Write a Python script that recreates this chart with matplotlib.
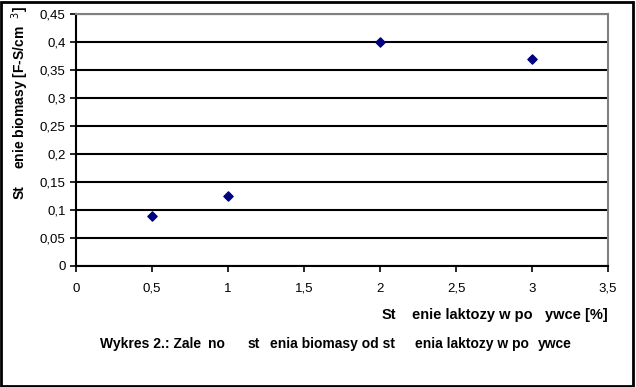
import matplotlib
matplotlib.use("Agg")
import matplotlib.pyplot as plt
from matplotlib.patches import Rectangle
from matplotlib.ticker import FuncFormatter

plt.rcParams["font.family"] = ["Liberation Sans", "DejaVu Sans"]

# dane
laktoza = [0.5, 1.0, 2.0, 3.0]
biomasa = [0.09, 0.125, 0.4, 0.37]

x_ticks = [0, 0.5, 1, 1.5, 2, 2.5, 3, 3.5]
y_ticks = [0, 0.05, 0.1, 0.15, 0.2, 0.25, 0.3, 0.35, 0.4, 0.45]

# napisy z brakujacymi polskimi znakami (tak jak na oryginale)
opis_y = ["St", "enie biomasy [F-S/cm  $^{3}$]"]
opis_x = ["St", "enie laktozy w po", "ywce [%]"]
podpis = ["Wykres 2.: Zale", "no", "st", "enia biomasy od st", "enia laktozy w po", "ywce"]

W, H = 636, 387


def przecinek(v, pos):
    return ("%g" % v).replace(".", ",")


def kawalki(fig, teksty, pozycje, y, **kw):
    for t, x in zip(teksty, pozycje):
        fig.text(x / W, 1 - y / H, t, ha="left", va="center", **kw)


fig = plt.figure(figsize=(W / 100, H / 100), dpi=100)
ax = fig.add_axes([76 / W, 1 - 266 / H, 532 / W, 252 / H])

ax.scatter(laktoza, biomasa, marker="D", s=22, color="#000080", zorder=3)

ax.set_xlim(0, 3.5)
ax.set_ylim(0, 0.45)
ax.set_xticks(x_ticks)
ax.set_yticks(y_ticks)
ax.xaxis.set_major_formatter(FuncFormatter(przecinek))
ax.yaxis.set_major_formatter(FuncFormatter(przecinek))
ax.tick_params(direction="out", length=4, width=1.2, labelsize=9.5, colors="black")
ax.tick_params(axis="x", pad=8)

ax.yaxis.grid(True, color="black", linewidth=1.5)
ax.set_axisbelow(True)

ax.spines["left"].set_linewidth(1.5)
ax.spines["bottom"].set_linewidth(1.5)
ax.spines["top"].set_color("#808080")
ax.spines["right"].set_color("#808080")
ax.spines["top"].set_linewidth(1.5)
ax.spines["right"].set_linewidth(1.5)

# opis osi Y (obrocony, od dolu do gory)
for t, y in zip(opis_y, [199, 169]):
    fig.text(20 / W, 1 - y / H, t, rotation=90, ha="center", va="bottom",
             fontsize=10, fontweight="bold")

kawalki(fig, opis_x, [382, 412, 545], 315, fontsize=10.5, fontweight="bold")
kawalki(fig, podpis, [100, 208, 248, 270, 415, 538], 344, fontsize=10, fontweight="bold")

fig.patches.append(Rectangle((0.002, 0.003), 0.994, 0.993, transform=fig.transFigure,
                             fill=False, edgecolor="black", linewidth=2))

fig.savefig("out.png", dpi=100)
